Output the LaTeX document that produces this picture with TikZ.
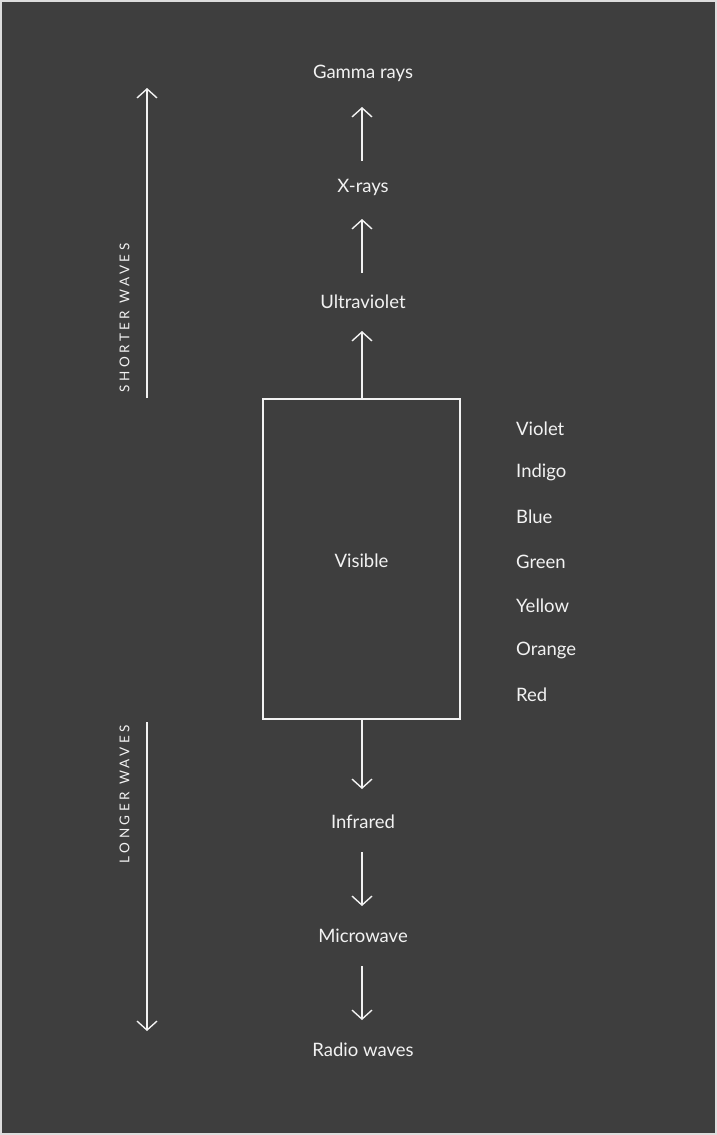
\documentclass[tikz,border=0pt]{standalone}
\usepackage{fontspec}
\setmainfont{Lato}
\newfontfamily\spaced[LetterSpace=26]{Lato}
\usetikzlibrary{arrows.meta}
\definecolor{bg}{HTML}{3E3E3E}
\definecolor{fr}{HTML}{DDDDDD}
\definecolor{fg}{HTML}{F2F2F2}
\tikzset{
  lbl/.style={text=fg,font=\fontsize{18.5}{22}\selectfont,inner sep=0pt,yshift=-1.5pt},
  side/.style={text=fg,font=\spaced\fontsize{13.5}{16}\selectfont,inner sep=0pt,rotate=90},
  arr/.style={draw=fg,line width=1.4pt,-{Straight Barb[length=9pt,width=20pt,line width=1.4pt]}},
  vbox/.style={draw=fg,line width=1.4pt,minimum width=197pt,minimum height=320pt,inner sep=0pt}
}
\begin{document}
\begin{tikzpicture}[x=1pt,y=-1pt]
\useasboundingbox (0,0) rectangle (717,1135);
\draw[fill=bg,draw=fr,line width=2pt] (1,1) rectangle (716,1134);
\node[lbl] (gamma) at (363,72) {Gamma rays};
\node[lbl] (xray) at (363,186) {X-rays};
\node[lbl] (uv) at (363,300) {Ultraviolet};
\node[vbox] (vis) at (361.5,559) {};
\node[lbl] at (vis.center) {Visible};
\node[lbl] (ir) at (363,820) {Infrared};
\node[lbl] (mw) at (363,934) {Microwave};
\node[lbl] (radio) at (363,1048) {Radio waves};
\coordinate (a1s) at (362,161); \coordinate (a1e) at (362,107);
\coordinate (a2s) at (362,273); \coordinate (a2e) at (362,219);
\coordinate (a3e) at (362,331);
\coordinate (a4e) at (362,789);
\coordinate (a5s) at (362,852); \coordinate (a5e) at (362,906);
\coordinate (a6s) at (362,966); \coordinate (a6e) at (362,1020);
\draw[arr] (a1s) -- (a1e);
\draw[arr] (a2s) -- (a2e);
\draw[arr] (vis.north -| a3e) -- (a3e);
\draw[arr] (vis.south -| a4e) -- (a4e);
\draw[arr] (a5s) -- (a5e);
\draw[arr] (a6s) -- (a6e);
\coordinate (su) at (147,398); \coordinate (sue) at (147,88);
\coordinate (lo) at (147,722); \coordinate (loe) at (147,1031);
\draw[arr] (su) -- (sue);
\draw[arr] (lo) -- (loe);
\node[side] (short) at (124.5,318) {SHORTER WAVES};
\node[side] (long) at (124.5,794) {LONGER WAVES};
\foreach \n/\t/\y in {cv/Violet/427,ci/Indigo/471,cb/Blue/515,cg/Green/560,cy/Yellow/604,co/Orange/649,cr/Red/693}{
  \node[lbl,anchor=west] (\n) at (516,\y) {\t};
}
\end{tikzpicture}
\end{document}
